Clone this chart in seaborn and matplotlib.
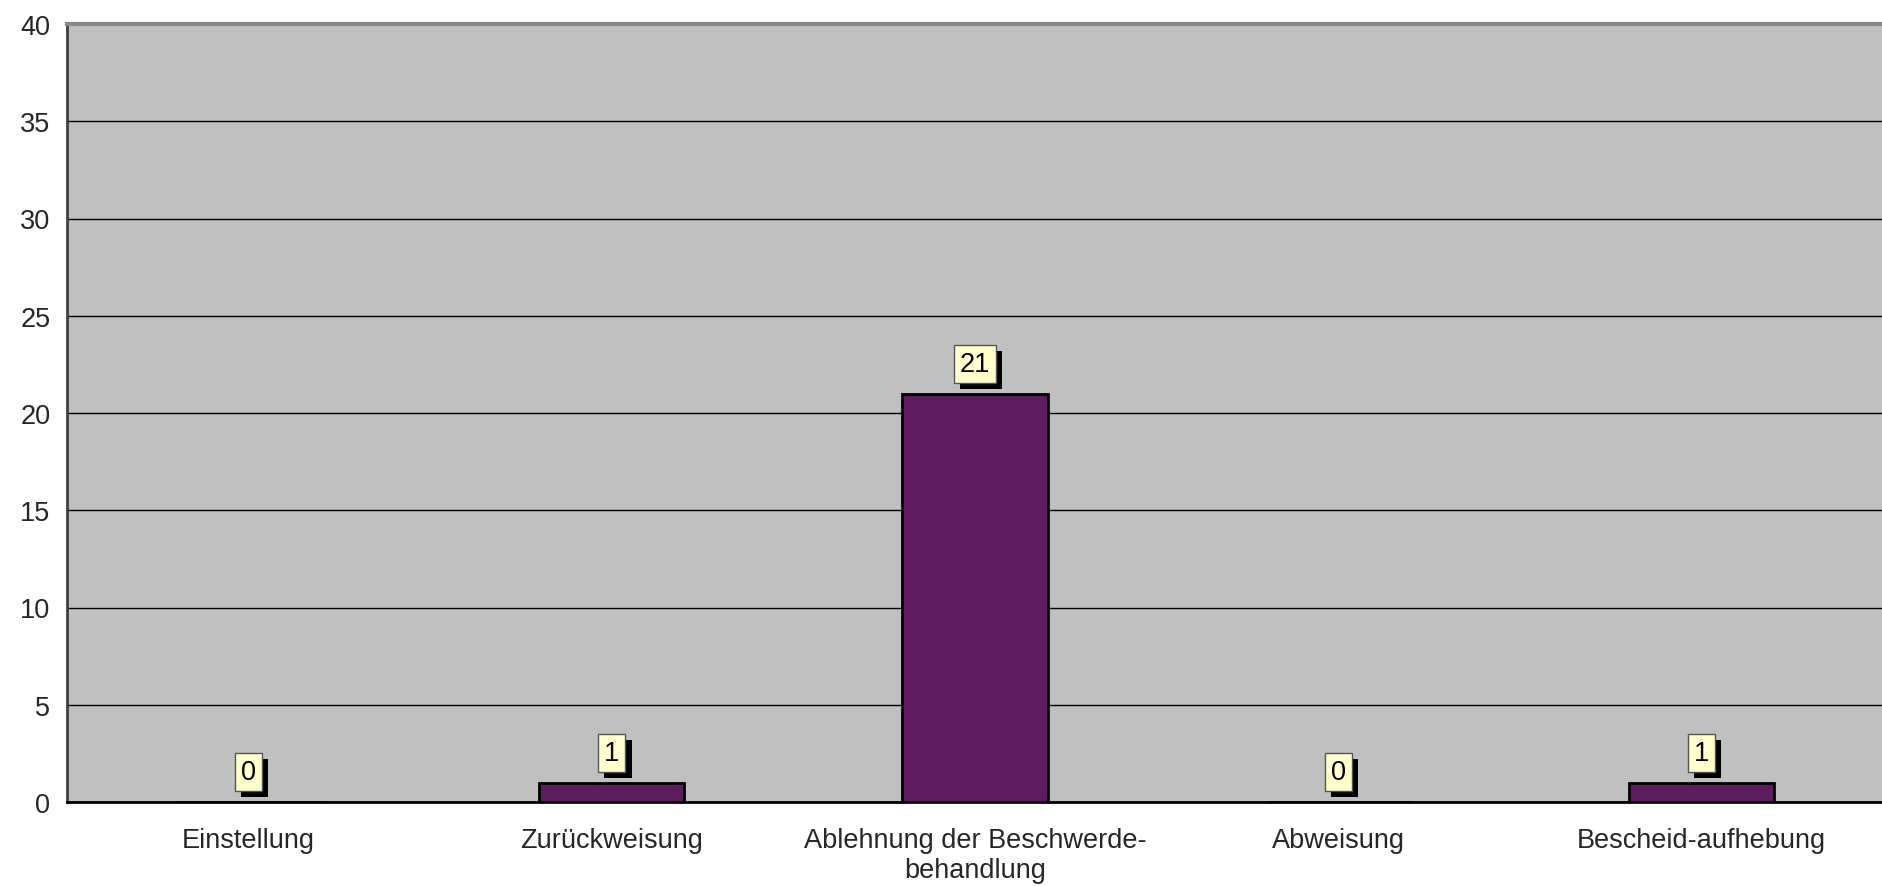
import matplotlib
matplotlib.use("Agg")
import matplotlib.pyplot as plt
import matplotlib.patheffects as pe
from matplotlib.ticker import FixedLocator
import seaborn as sns
import pandas as pd

# data
kategorien = ["Einstellung", "Zurückweisung", "Ablehnung der Beschwerde-\nbehandlung",
              "Abweisung", "Bescheid-aufhebung"]
werte = [0, 1, 21, 0, 1]

sns.set_style("white")
plt.rcParams['font.family'] = ['Liberation Sans', 'DejaVu Sans']

df = pd.DataFrame({"kategorie": kategorien, "wert": werte})

fig = plt.figure(figsize=(18.83, 8.87), dpi=100)
ax = fig.add_axes([67 / 1883, 1 - 803 / 887, 1 - 67 / 1883, (803 - 25) / 887])
ax.set_facecolor("#C0C0C0")

sns.barplot(data=df, x="kategorie", y="wert", color="#5E1D5E", edgecolor="black",
            linewidth=2, width=0.4, saturation=1, ax=ax, zorder=3)

ax.set_xlim(-0.5, len(kategorien) - 0.5)
ax.set_ylim(0, 40)
ax.set_yticks(range(0, 41, 5))
ax.yaxis.grid(True, color="black", linewidth=1)
ax.set_axisbelow(True)
ax.set_xlabel("")
ax.set_ylabel("")

ax.tick_params(axis="y", labelsize=19.5, length=8, width=1, direction="out", color="#404040", pad=4)
ax.tick_params(axis="x", which="major", labelsize=19.5, length=0, pad=18)
ax.xaxis.set_minor_locator(FixedLocator([i - 0.5 for i in range(len(kategorien) + 1)]))
ax.tick_params(axis="x", which="minor", length=16, width=1, direction="inout", color="black")

for s in ["left", "top", "bottom"]:
    ax.spines[s].set_visible(True)
ax.spines["left"].set_color("#404040")
ax.spines["left"].set_linewidth(2)
ax.spines["top"].set_color("#888888")
ax.spines["top"].set_linewidth(3)
ax.spines["right"].set_visible(False)
ax.spines["bottom"].set_color("black")
ax.spines["bottom"].set_linewidth(2)

# Datenbeschriftungen mit Schatten
for i, v in enumerate(werte):
    ann = ax.annotate(str(v), xy=(i, v), xytext=(0, 17), textcoords="offset pixels",
                      ha="center", va="bottom", fontsize=19.5, color="black",
                      bbox=dict(boxstyle="square,pad=0.22", fc="#FFFFCC", ec="#555555", lw=1),
                      zorder=5)
    ann.get_bbox_patch().set_path_effects([
        pe.SimplePatchShadow(offset=(4.5, -4.5), shadow_rgbFace="black", alpha=1),
        pe.Normal()])

fig.savefig("out.png", dpi=100)
